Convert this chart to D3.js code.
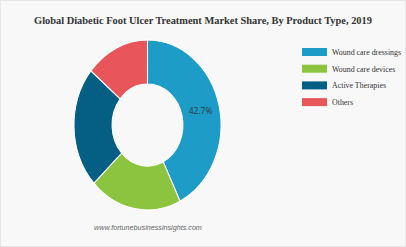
<!DOCTYPE html>
<html>
<head>
<meta charset="utf-8">
<script src="https://cdn.jsdelivr.net/npm/d3@7"></script>
<style>
  body { margin: 0; padding: 0; background: #ffffff; }
</style>
</head>
<body>
<div id="chart"></div>
<script>
// market share by product type, 2019 (percent)
var categories = ["Wound care dressings", "Wound care devices", "Active Therapies", "Others"];
var shares = [42.7, 20.3, 23.0, 14.0];
var colors = ["#1d9cc7", "#8cc43f", "#055f85", "#e8565a"];
var shownLabels = ["42.7%", "", "", ""];

var width = 406, height = 247;
var svg = d3.select("#chart").append("svg").attr("width", width).attr("height", height);

// panel background
svg.append("rect").attr("x", 0.5).attr("y", 0.5).attr("width", width - 1).attr("height", height - 1)
    .attr("fill", "#f8f8f8").attr("stroke", "#e6e6e6");

// title
svg.append("text").text("Global Diabetic Foot Ulcer Treatment Market Share, By Product Type, 2019")
    .attr("x", 203).attr("y", 24).attr("text-anchor", "middle")
    .style("font-family", "'Liberation Serif', 'Times New Roman', serif")
    .style("font-weight", "bold").style("font-size", "10.4px").attr("fill", "#333");

// donut - source picture is squeezed horizontally, so scale x
var outerR = 85, innerR = 41;
var pie = d3.pie().sort(null).value(function (d) { return d; });
var arc = d3.arc().innerRadius(innerR).outerRadius(outerR);
var labelArc = d3.arc().innerRadius((innerR + outerR) / 2).outerRadius((innerR + outerR) / 2);
var arcs = pie(shares);

var donut = svg.append("g").attr("transform", "translate(147.5,125) scale(0.865,1)");
donut.selectAll("path").data(arcs).enter().append("path")
    .attr("d", arc)
    .attr("fill", function (d, i) { return colors[i]; })
    .attr("stroke", "#ffffff").attr("stroke-width", 1.2);

arcs.forEach(function (d, i) {
    if (!shownLabels[i]) return;
    var c = labelArc.centroid(d);
    svg.append("text").text(shownLabels[i])
        .attr("x", 147.5 + c[0] * 0.865).attr("y", 125 + c[1] + 3)
        .attr("text-anchor", "middle")
        .style("font-family", "'Open Sans', 'DejaVu Sans', sans-serif")
        .style("font-size", "8.5px").attr("fill", "#2b3a44");
});

// legend
var legend = svg.append("g").attr("transform", "translate(302,48)");
categories.forEach(function (c, i) {
    legend.append("rect").attr("x", 0).attr("y", i * 16.7).attr("width", 25).attr("height", 8)
        .attr("fill", colors[i]);
    legend.append("text").text(c).attr("x", 30).attr("y", i * 16.7 + 7)
        .style("font-family", "'Liberation Serif', 'Times New Roman', serif")
        .style("font-size", "7.9px").attr("fill", "#333");
});

// source
svg.append("text").text("www.fortunebusinessinsights.com")
    .attr("x", 94).attr("y", 230)
    .style("font-family", "'Liberation Sans', Arial, sans-serif")
    .style("font-style", "italic").style("font-size", "7.2px").attr("fill", "#666");
</script>
</body>
</html>
